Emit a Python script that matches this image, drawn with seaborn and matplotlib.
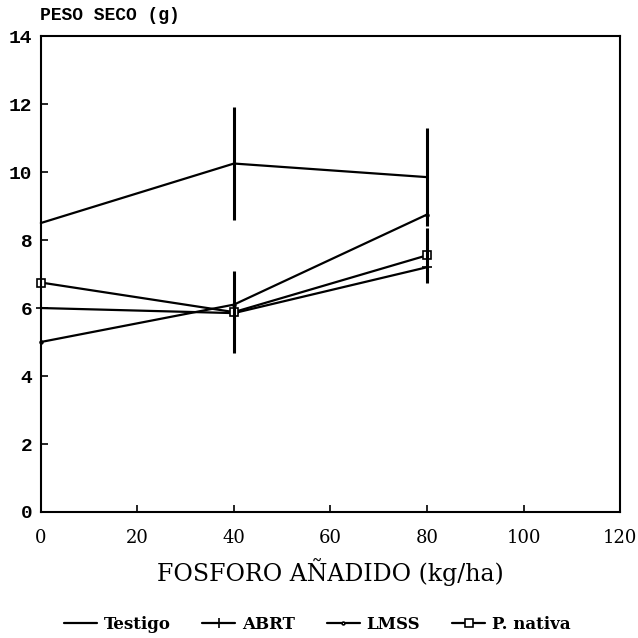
import matplotlib
matplotlib.use("Agg")
import matplotlib.pyplot as plt
import seaborn as sns
import pandas as pd

# Dry weight (g) against added phosphorus (kg/ha)
fosforo = [0, 40, 80]
testigo = [8.5, 10.25, 9.85]
abrt = [6.0, 5.85, 7.2]
lmss = [5.0, 6.1, 8.75]
p_nativa = [6.75, 5.88, 7.55]

# Standard deviations shown as vertical bars
err_testigo = [0.0, 1.65, 1.45]
err_p_nativa = [0.0, 1.2, 0.8]

series = ["Testigo", "ABRT", "LMSS", "P. nativa"]
values = [testigo, abrt, lmss, p_nativa]

x_ticks = [0, 20, 40, 60, 80, 100, 120]
y_ticks = [0, 2, 4, 6, 8, 10, 12, 14]

rows = []
for name, vals in zip(series, values):
    for xv, yv in zip(fosforo, vals):
        rows.append({"fosforo": xv, "peso": yv, "serie": name})
df = pd.DataFrame(rows)

sns.set_style("ticks")
plt.rcParams["font.family"] = ["DejaVu Serif"]
plt.rcParams["text.color"] = "black"

fig = plt.figure(figsize=(6.38, 6.38), dpi=100)
ax = fig.add_axes([0.064, 0.1975, 0.908, 0.746])

markers = {"Testigo": None, "ABRT": "+", "LMSS": ".", "P. nativa": "s"}
msizes = {"Testigo": 0, "ABRT": 7, "LMSS": 4, "P. nativa": 6}

for name in series:
    sub = df[df["serie"] == name]
    sns.lineplot(data=sub, x="fosforo", y="peso", ax=ax, color="black",
                 linewidth=1.6, marker=markers[name],
                 markersize=msizes[name], markerfacecolor="white",
                 markeredgecolor="black", markeredgewidth=1.2,
                 label=name, errorbar=None, clip_on=False)

ax.errorbar(fosforo[1:], testigo[1:], yerr=err_testigo[1:], fmt="none",
            ecolor="black", elinewidth=2.2, capsize=0)
ax.errorbar(fosforo[1:], p_nativa[1:], yerr=err_p_nativa[1:], fmt="none",
            ecolor="black", elinewidth=2.2, capsize=0)

ax.set_xlim(0, 120)
ax.set_ylim(0, 14)
ax.set_xticks(x_ticks)
ax.set_yticks(y_ticks)
ax.set_xticklabels([str(v) for v in x_ticks], fontsize=13,
                   family="DejaVu Serif")
ax.set_yticklabels([str(v) for v in y_ticks], fontsize=14,
                   family="Liberation Mono", fontweight="bold")
ax.tick_params(axis="both", direction="in", length=5, width=1.2,
               colors="black", labelcolor="black")
ax.tick_params(axis="x", pad=12)
ax.tick_params(axis="y", pad=6)
for s in ax.spines.values():
    s.set_visible(True)
    s.set_linewidth(1.5)
    s.set_color("black")

ax.set_xlabel("FOSFORO AÑADIDO (kg/ha)", fontsize=17, labelpad=8,
              color="black")
ax.set_ylabel("")
fig.text(0.062, 0.962, "PESO SECO (g)", fontsize=13, fontweight="bold",
         family="Liberation Mono", ha="left", va="bottom", color="black")

handles, labels = ax.get_legend_handles_labels()
if ax.legend_:
    ax.legend_.remove()
fig.legend(handles, labels, loc="lower center",
           bbox_to_anchor=(0.497, -0.016),
           ncol=4, frameon=False, handlelength=2.0, columnspacing=1.9,
           handletextpad=0.4,
           prop={"family": "DejaVu Serif", "weight": "bold", "size": 12})

fig.savefig("out.png", dpi=100, facecolor="white")
